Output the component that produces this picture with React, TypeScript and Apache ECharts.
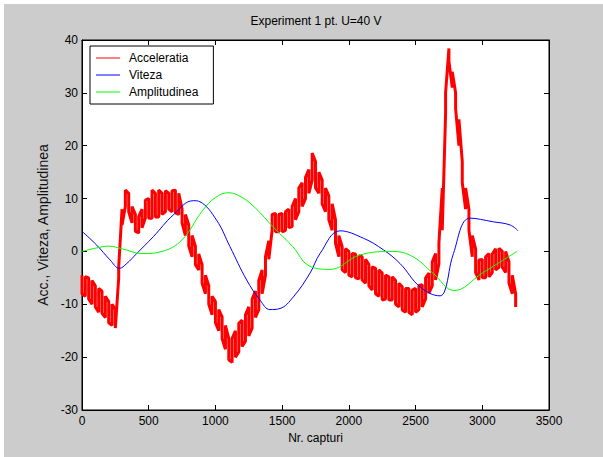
import React, { useEffect, useRef } from "react";
import * as echarts from "echarts";

const TITLE = "Experiment 1 pt. U=40 V";
const X_NAME = "Nr. capturi";
const Y_NAME = "Acc., Viteza, Amplitudinea";
const SERIES_NAMES = ["Acceleratia", "Viteza", "Amplitudinea"];

// Acceleratia is a noisy signal: read as the lower / upper edge of its noise band,
// one reading every 25 captures starting at capture 0.
const ACC_STEP = 25;
const accLower = [
  -8.0, -8.5, -9.0, -10.0, -10.5, -11.5, -11.7, -12.5, -13.5, -14.0,
  -14.5, -5.0, 5.0, 8.5, 7.5, 5.4, 3.8, 3.5, 4.5, 6.3,
  6.3, 6.3, 6.5, 6.5, 7.0, 7.5, 8.0, 7.5, 7.3, 7.0,
  5.4, 3.0, 1.0, -1.0, -2.5, -3.5, -6.0, -8.0, -10.0, -12.0,
  -13.5, -15.0, -16.5, -18.5, -20.5, -21.0, -20.0, -19.0, -18.0, -17.0,
  -16.0, -14.5, -12.5, -11.0, -8.0, -4.5, -1.5, 4.0, 3.7, 3.7,
  3.7, 4.0, 4.5, 4.7, 6.0, 7.5, 8.5, 10.0, 11.0, 13.5,
  12.0, 11.0, 9.0, 7.5, 6.0, 4.0, 1.5, -1.0, -3.5, -4.0,
  -4.5, -4.8, -5.0, -5.2, -5.4, -6.0, -6.5, -7.3, -8.0, -8.5,
  -9.2, -9.0, -9.2, -9.2, -10.0, -10.5, -11.1, -11.5, -11.5, -12.0,
  -11.5, -11.0, -10.5, -9.0, -7.9, -6.5, -5.4, -2.3, 4.0, 26.0,
  36.0, 31.0, 27.0, 20.0, 13.0, 8.0, 4.0, -1.0, -4.0, -5.4,
  -5.0, -5.0, -4.8, -4.0, -3.5, -3.0, -3.0, -4.0, -6.0, -8.0,
  -10.5,
];
const accUpper = [
  -4.5, -4.8, -5.0, -5.5, -6.5, -7.0, -7.5, -8.5, -9.5, -10.0,
  -11.0, -3.0, 8.0, 11.6, 11.0, 8.5, 7.0, 6.6, 8.0, 9.7,
  10.0, 11.6, 11.0, 11.6, 11.0, 11.5, 11.0, 11.5, 11.6, 11.0,
  8.0, 7.0, 5.0, 3.0, 1.0, -0.5, -2.5, -4.5, -6.5, -8.5,
  -9.5, -11.0, -12.4, -14.0, -16.5, -16.5, -15.0, -13.6, -13.0, -12.0,
  -10.5, -9.0, -7.5, -5.5, -3.5, -1.0, 2.0, 7.0, 7.2, 7.0,
  7.2, 7.5, 8.0, 8.5, 10.0, 12.0, 13.0, 14.0, 15.5, 18.6,
  17.0, 15.0, 13.5, 12.0, 10.5, 9.0, 6.0, 3.0, 0.9, 0.5,
  0.0, -0.4, -0.5, -0.8, -1.0, -1.5, -2.5, -2.9, -3.2, -3.5,
  -4.1, -4.5, -4.8, -4.8, -5.5, -6.0, -6.7, -7.0, -7.0, -7.3,
  -7.0, -6.5, -6.3, -5.0, -4.1, -2.0, -0.4, 1.6, 12.0, 30.0,
  38.4, 34.0, 30.0, 25.0, 17.0, 12.0, 8.0, 3.0, 0.5, -1.6,
  -1.5, -1.0, -0.4, -0.5, 0.5, 0.6, 0.0, 0.0, -2.0, -4.5,
  -8.0,
];

// Viteza: [capture, value]
const vitezaPoints = [
  [0, 3.8], [110, 1.2], [210, -1.6], [280, -3.2], [335, -2.3], [410, -0.4],
  [535, 2.8], [684, 6.9], [834, 9.6], [884, 9.4], [1009, 5.9], [1109, 0.9],
  [1234, -5.4], [1334, -9.2], [1409, -11.0], [1484, -10.8], [1584, -8.6],
  [1709, -4.1], [1784, -0.4], [1934, 3.9], [2109, 2.5], [2259, 0.3],
  [2384, -2.3], [2534, -6.7], [2684, -8.4], [2721, -7.3], [2784, -0.4],
  [2909, 6.3], [3084, 5.6], [3209, 5.0], [3268, 3.9],
];

// Amplitudinea: [capture, value]
const amplitudinePoints = [
  [0, 0.0], [100, 0.6], [200, 1.0], [300, 0.5], [450, -0.4], [600, 0.0],
  [750, 2.2], [900, 7.6], [1000, 10.2], [1100, 11.1], [1200, 10.2],
  [1300, 8.2], [1430, 4.7], [1580, 0.9], [1700, -2.7], [1860, -3.4],
  [2080, -0.7], [2330, 0.0], [2480, -1.0], [2630, -4.1], [2790, -7.4],
  [3000, -4.1], [3260, 0.0],
];

const X_MIN = 0, X_MAX = 3500, X_INT = 500;
const Y_MIN = -30, Y_MAX = 40, Y_INT = 10;

const FONT = "'Liberation Sans', Arial, sans-serif";

export default function App() {
  const ref = useRef<HTMLDivElement>(null);
  useEffect(() => {
    if (!ref.current) return;
    const chart = echarts.init(ref.current, undefined, { renderer: "svg" });
    // each reading is drawn as a vertical noise stroke from lower to upper edge
    const accData: number[][] = [];
    accLower.forEach((lo, i) => {
      const x = i * ACC_STEP;
      const hi = accUpper[i];
      if (i % 2 === 0) { accData.push([x, hi], [x, lo]); }
      else { accData.push([x, lo], [x, hi]); }
    });
    const axisCommon = {
      type: "value" as const,
      splitLine: { show: false },
      axisLine: { show: true, onZero: false, lineStyle: { color: "#000", width: 1 } },
      axisTick: { show: true, inside: true, length: 5, lineStyle: { color: "#000" } },
    };
    chart.setOption({
      animation: false,
      backgroundColor: "#cccccc",
      textStyle: { fontFamily: FONT },
      title: {
        text: TITLE,
        left: 312,
        top: 11,
        textAlign: "center",
        padding: 0,
        textStyle: { fontSize: 12, fontWeight: "normal", color: "#000", fontFamily: FONT },
      },
      grid: {
        left: 78, top: 36, right: 54, bottom: 47,
        show: true, backgroundColor: "#ffffff", borderColor: "#000", borderWidth: 1,
        containLabel: false,
      },
      legend: {
        orient: "vertical",
        left: 86, top: 42,
        backgroundColor: "#ffffff",
        borderColor: "#000", borderWidth: 1, borderRadius: 0,
        padding: [5, 15, 5, 6],
        itemGap: 3,
        itemWidth: 24, itemHeight: 1,
        icon: "rect",
        textStyle: { fontSize: 12, color: "#000", fontFamily: FONT, lineHeight: 14, padding: [0, 0, 0, 4] },
        data: SERIES_NAMES,
      },
      xAxis: [
        {
          ...axisCommon, position: "bottom",
          min: X_MIN, max: X_MAX, interval: X_INT,
          axisLabel: { color: "#000", fontSize: 12, margin: 5, fontFamily: FONT, formatter: (v: number) => String(v) },
          name: X_NAME, nameLocation: "middle", nameGap: 20,
          nameTextStyle: { color: "#000", fontSize: 12, fontFamily: FONT },
        },
        {
          ...axisCommon, position: "top",
          min: X_MIN, max: X_MAX, interval: X_INT,
          axisLabel: { show: false },
        },
      ],
      yAxis: [
        {
          ...axisCommon, position: "left",
          min: Y_MIN, max: Y_MAX, interval: Y_INT,
          axisLabel: { color: "#000", fontSize: 12, margin: 4, fontFamily: FONT, formatter: (v: number) => String(v) },
          name: Y_NAME, nameLocation: "middle", nameGap: 28,
          nameTextStyle: { color: "#111", fontSize: 14, fontFamily: FONT },
        },
        {
          ...axisCommon, position: "right",
          min: Y_MIN, max: Y_MAX, interval: Y_INT,
          axisLabel: { show: false },
        },
      ],
      series: [
        {
          name: SERIES_NAMES[0], type: "line", data: accData,
          xAxisIndex: 0, yAxisIndex: 0,
          showSymbol: false, symbol: "none",
          lineStyle: { color: "#ff0000", width: 3 }, itemStyle: { color: "#ff0000" },
        },
        {
          name: SERIES_NAMES[1], type: "line", data: vitezaPoints,
          xAxisIndex: 0, yAxisIndex: 0, smooth: 0.4,
          showSymbol: false, symbol: "none",
          lineStyle: { color: "#0000ff", width: 1 }, itemStyle: { color: "#0000ff" },
        },
        {
          name: SERIES_NAMES[2], type: "line", data: amplitudinePoints,
          xAxisIndex: 0, yAxisIndex: 0, smooth: 0.4,
          showSymbol: false, symbol: "none",
          lineStyle: { color: "#00ff00", width: 1 }, itemStyle: { color: "#00ff00" },
        },
      ],
    });
    return () => chart.dispose();
  }, []);
  return (
    <div style={{ position: "fixed", left: 0, top: 0, width: 603, height: 457, background: "#ffffff" }}>
      <div ref={ref} style={{ position: "absolute", left: 4, top: 4, width: 599, height: 453 }} />
    </div>
  );
}
